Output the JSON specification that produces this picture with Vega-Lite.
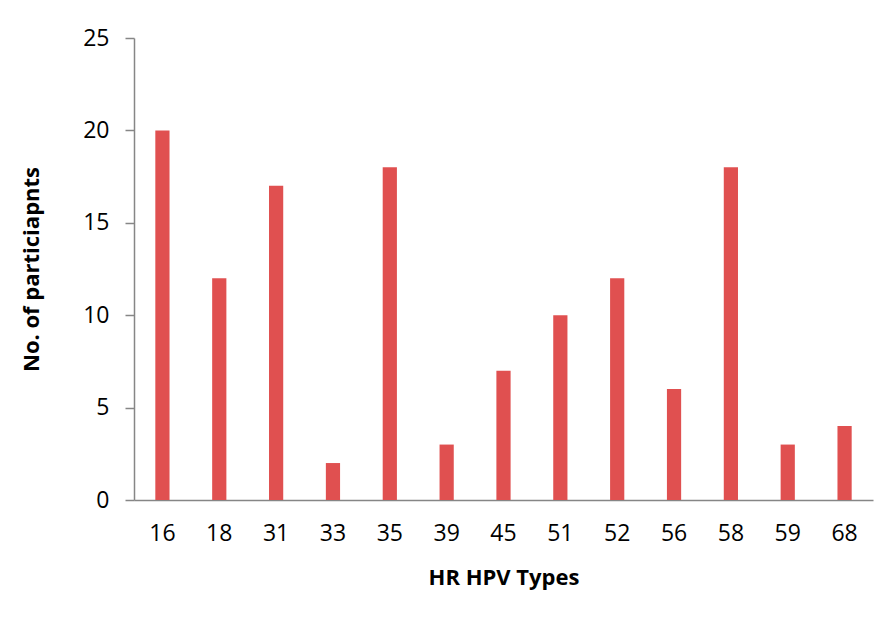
{
  "$schema": "https://vega.github.io/schema/vega-lite/v6.json",
  "autosize": "none",
  "width": 739,
  "height": 462,
  "padding": {"left": 134, "top": 38, "right": 23, "bottom": 120},
  "background": "white",
  "config": {"view": {"stroke": null}, "font": "Open Sans"},
  "data": {"values": [
    {"type": "16", "n": 20},
    {"type": "18", "n": 12},
    {"type": "31", "n": 17},
    {"type": "33", "n": 2},
    {"type": "35", "n": 18},
    {"type": "39", "n": 3},
    {"type": "45", "n": 7},
    {"type": "51", "n": 10},
    {"type": "52", "n": 12},
    {"type": "56", "n": 6},
    {"type": "58", "n": 18},
    {"type": "59", "n": 3},
    {"type": "68", "n": 4}
  ]},
  "mark": {"type": "bar", "color": "#E05050"},
  "encoding": {
    "x": {
      "field": "type", "type": "nominal", "sort": null,
      "scale": {"paddingInner": 0.75, "paddingOuter": 0.375},
      "axis": {
        "title": "HR HPV Types", "titleFont": "Open Sans", "titleFontSize": 22, "titleFontWeight": "bold",
        "titleColor": "black", "titlePadding": 22,
        "labelAngle": 0, "labelFont": "Open Sans", "labelFontSize": 23, "labelColor": "black", "labelPadding": 22,
        "ticks": false, "domainColor": "#868686", "domainWidth": 1.5, "grid": false
      }
    },
    "y": {
      "field": "n", "type": "quantitative",
      "scale": {"domain": [0, 25]},
      "axis": {
        "title": "No. of particiapnts", "titleFont": "Open Sans", "titleFontSize": 22, "titleFontWeight": "bold",
        "titleColor": "black", "titlePadding": 39,
        "values": [0, 5, 10, 15, 20, 25],
        "labelFont": "Open Sans", "labelFontSize": 23, "labelColor": "black", "labelPadding": 16,
        "tickSize": 9, "tickColor": "#868686", "domainColor": "#868686", "domainWidth": 1.5, "tickWidth": 1.5,
        "grid": false
      }
    }
  }
}
